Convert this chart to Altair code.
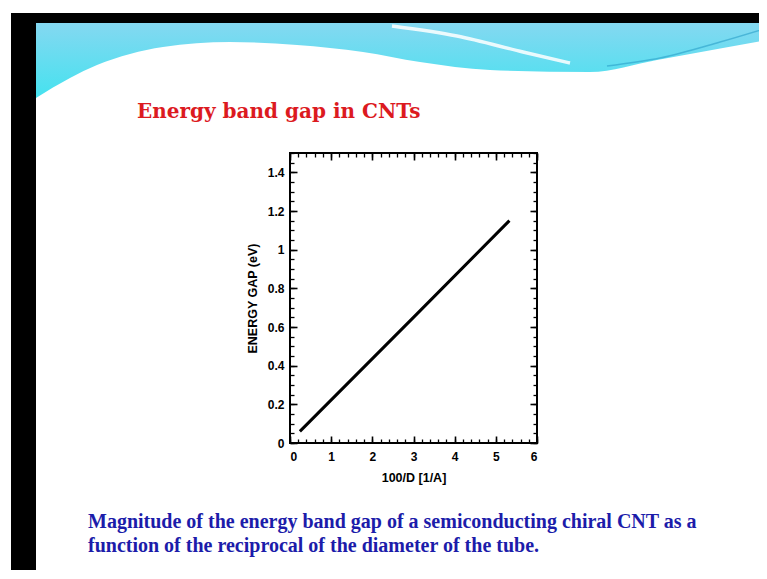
import altair as alt
import pandas as pd

# ---- chart data ----
inv_diameter = [0.24, 3.0, 5.33]      # 100/D [1/A]
energy_gap = [0.06, 0.65, 1.15]       # eV

x_major = [0, 1, 2, 3, 4, 5, 6]
x_minor = [round(0.2 * i, 1) for i in range(31)]
y_major = [0, 0.2, 0.4, 0.6, 0.8, 1.0, 1.2, 1.4]
y_minor = [round(0.05 * i, 2) for i in range(31)]

title_text = "Energy band gap in CNTs"
caption_lines = [
    "Magnitude of the energy band gap of a semiconducting chiral CNT as a",
    "function of the reciprocal of the diameter of the tube.",
]

# ---- slide decoration (page pixels) ----
banner_px = [36, 70, 97, 130, 163, 230, 297, 363, 420, 490, 590, 657, 723, 767]
banner_py = [98, 78, 65, 54, 47, 42, 45, 52, 62, 70, 72, 60, 48, 40]
swoosh_px = [392, 457, 523, 570]
swoosh_py = [26, 36, 52, 63]
edge_px = [607, 660, 720, 767]
edge_py = [66, 58, 42, 28]

W, H = 247, 290
OX, OY = 290, 153   # page position of plot origin

df = pd.DataFrame({"x": inv_diameter, "y": energy_gap})

xs = alt.Scale(domain=[0, 6], nice=False, zero=False)
ys = alt.Scale(domain=[0, 1.5], nice=False, zero=False)

LBL = dict(labelFont="Liberation Sans", labelFontWeight="bold", labelFontSize=12,
           labelColor="black", titleFont="Liberation Sans", titleFontWeight="bold",
           titleFontSize=12.5, titleColor="black", domain=False, grid=False,
           tickColor="black", zindex=1)


def ax(orient, values, size, labels=False, title=None, **kw):
    base = dict(LBL)
    base.update(kw)
    base["title"] = title
    if title is None:
        base["title"] = None
    return alt.Axis(orient=orient, values=values, offset=-size, tickSize=size,
                    tickWidth=1.6 if size > 5 else 1.3, labels=labels, **base)


line = alt.Chart(df).mark_line(color="black", strokeWidth=3)

main = line.encode(
    x=alt.X("x:Q", scale=xs, axis=ax("bottom", x_major, 7, labels=True, title="100/D [1/A]",
                                       labelPadding=8, titlePadding=9)),
    y=alt.Y("y:Q", scale=ys, axis=ax("left", y_major, 7, labels=True, title="ENERGY GAP (eV)",
                                       format="~g", labelPadding=6, titlePadding=8)),
)
minor1 = line.mark_line(opacity=0).encode(
    x=alt.X("x:Q", scale=xs, axis=ax("bottom", x_minor, 4)),
    y=alt.Y("y:Q", scale=ys, axis=ax("left", y_minor, 4)),
)
mirror = line.mark_line(opacity=0).encode(
    x=alt.X("x:Q", scale=xs, axis=ax("top", x_major, 7)),
    y=alt.Y("y:Q", scale=ys, axis=ax("right", y_major, 7)),
)
minor2 = line.mark_line(opacity=0).encode(
    x=alt.X("x:Q", scale=xs, axis=ax("top", x_minor, 4)),
    y=alt.Y("y:Q", scale=ys, axis=ax("right", y_minor, 4)),
)

one = pd.DataFrame({"a": [0]})
black_bg = alt.Chart(one).mark_rect(color="black").encode(
    x=alt.value(11 - OX), x2=alt.value(767 - OX), y=alt.value(13 - OY), y2=alt.value(579 - OY))
slide_bg = alt.Chart(one).mark_rect(color="white").encode(
    x=alt.value(36 - OX), x2=alt.value(767 - OX), y=alt.value(23 - OY), y2=alt.value(579 - OY))

grad = alt.Gradient(gradient="linear",
                    stops=[alt.GradientStop(color="#84d8f1", offset=0),
                           alt.GradientStop(color="#45e2ef", offset=1)],
                    x1=0, x2=0, y1=0, y2=1)
banner_df = pd.DataFrame({"px": [v - OX for v in banner_px],
                          "py": [v - OY for v in banner_py],
                          "top": [23 - OY] * len(banner_px)})
banner = alt.Chart(banner_df).mark_area(color=grad, interpolate="monotone").encode(
    x=alt.X("px:Q", scale=None), y=alt.Y("top:Q", scale=None), y2=alt.Y2("py:Q"))

sw_df = pd.DataFrame({"px": [v - OX for v in swoosh_px], "py": [v - OY for v in swoosh_py]})
swoosh = alt.Chart(sw_df).mark_line(color="white", strokeWidth=3.5, opacity=0.85,
                                    interpolate="monotone").encode(
    x=alt.X("px:Q", scale=None), y=alt.Y("py:Q", scale=None))
ed_df = pd.DataFrame({"px": [v - OX for v in edge_px], "py": [v - OY for v in edge_py]})
edge = alt.Chart(ed_df).mark_line(color="#2a9fc8", strokeWidth=1.5, opacity=0.6,
                                  interpolate="monotone").encode(
    x=alt.X("px:Q", scale=None), y=alt.Y("py:Q", scale=None))

title = alt.Chart(one).mark_text(text=title_text, font="DejaVu Serif", fontWeight="bold",
                                 fontSize=20, color="#dc1a1f", align="left",
                                 baseline="alphabetic").encode(
    x=alt.value(137 - OX), y=alt.value(118 - OY))
cap1 = alt.Chart(one).mark_text(text=caption_lines[0], font="Liberation Serif", fontWeight="bold",
                                fontSize=20, color="#1c1caa", align="left",
                                baseline="alphabetic").encode(
    x=alt.value(88 - OX), y=alt.value(528 - OY))
cap2 = alt.Chart(one).mark_text(text=caption_lines[1], font="Liberation Serif", fontWeight="bold",
                                fontSize=20, color="#1c1caa", align="left",
                                baseline="alphabetic").encode(
    x=alt.value(88 - OX), y=alt.value(552 - OY))

frame = alt.Chart(one).mark_rect(fill=None, stroke="black", strokeWidth=2).encode(
    x=alt.value(0), x2=alt.value(W), y=alt.value(0), y2=alt.value(H))

chart = alt.layer(
    black_bg, slide_bg, banner, swoosh, edge, title, cap1, cap2,
    main, minor1, mirror, minor2, frame,
).resolve_axis(x="independent", y="independent").properties(
    width=W, height=H,
    autosize=alt.AutoSizeParams(type="none"),
    padding={"left": OX - 8, "top": OY - 8, "right": 767 - 8 - 8 - OX - W + 8, "bottom": 127},
    background="white",
).configure_view(stroke=None, fill=None)

chart.save("out.html", embed_options={"renderer": "svg", "actions": False})
